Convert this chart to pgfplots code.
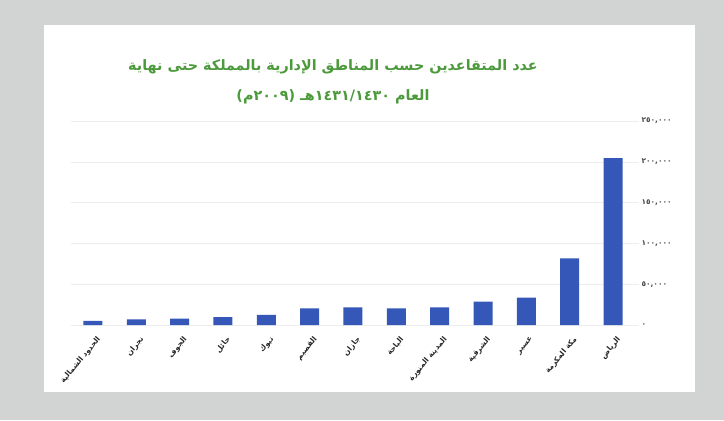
\documentclass[border=0pt]{standalone}
\usepackage{fontspec}
\usepackage{pgfplots}
\pgfplotsset{compat=1.18}
\setmainfont{DejaVu Sans}
\newfontfamily\arabicfont[Script=Arabic]{DejaVu Sans}
\TeXXeTstate=1

\definecolor{bggray}{HTML}{D2D4D3}
\definecolor{barblue}{HTML}{3558B8}
\definecolor{titlegreen}{HTML}{4C9A3C}
\definecolor{gridgray}{HTML}{EDEDED}

\pgfplotstableread{
x  y
0  5000
1  7000
2  7700
3  9800
4  12300
5  20500
6  21600
7  20500
8  21500
9  28600
10 33500
11 81800
12 204500
}\retirees

\begin{document}
\begin{tikzpicture}[x=1bp,y=1bp]
\fill[bggray] (0,0) rectangle (724,420);
\fill[white] (44,28) rectangle (695,395);
\node[font=\arabicfont\bfseries\fontsize{14.4}{16}\selectfont, text=titlegreen] at (333,353) {\beginR عدد المتقاعدين حسب المناطق الإدارية بالمملكة حتى نهاية\endR};
\node[font=\arabicfont\bfseries\fontsize{14.4}{16}\selectfont, text=titlegreen] at (333,323) {\beginR العام ١٤٣٠\kern0pt/\kern0pt١٤٣١هـ (٢٠٠٩م)\endR};
\begin{axis}[
    at={(71.3bp,95bp)}, anchor=south west,
    scale only axis,
    width=567.7bp, height=204bp,
    ybar, bar width=19bp,
    xmin=-0.5, xmax=12.6,
    ymin=0, ymax=250000,
    scaled y ticks=false,
    axis line style={draw=none},
    major tick style={draw=none},
    ymajorgrids, grid style={gridgray, line width=0.6pt},
    ytick={0,50000,100000,150000,200000,250000},
    yticklabels={{\arabicfont\beginR ٠\endR},{\arabicfont\beginR ٥٠,٠٠٠\endR},{\arabicfont\beginR ١٠٠,٠٠٠\endR},{\arabicfont\beginR ١٥٠,٠٠٠\endR},{\arabicfont\beginR ٢٠٠,٠٠٠\endR},{\arabicfont\beginR ٢٥٠,٠٠٠\endR}},
    yticklabel pos=right,
    yticklabel style={anchor=west, font=\bfseries\fontsize{7.5}{8}\selectfont, text=black!70, xshift=-1bp},
    xtick=data,
    xticklabels={
      {\arabicfont\beginR الحدود الشمالية\endR},
      {\arabicfont\beginR نجران\endR},
      {\arabicfont\beginR الجوف\endR},
      {\arabicfont\beginR حائل\endR},
      {\arabicfont\beginR تبوك\endR},
      {\arabicfont\beginR القصيم\endR},
      {\arabicfont\beginR جازان\endR},
      {\arabicfont\beginR الباحة\endR},
      {\arabicfont\beginR المدينة المنورة\endR},
      {\arabicfont\beginR الشرقية\endR},
      {\arabicfont\beginR عسير\endR},
      {\arabicfont\beginR مكة المكرمة\endR},
      {\arabicfont\beginR الرياض\endR}},
    xticklabel style={xshift=3bp, yshift=-5bp, rotate=50, anchor=north east, font=\bfseries\fontsize{7.5}{8}\selectfont, text=black!85, inner sep=1bp},
]
\addplot[fill=barblue, draw=none] table[x=x, y=y] {\retirees};
\end{axis}
\end{tikzpicture}
\end{document}
